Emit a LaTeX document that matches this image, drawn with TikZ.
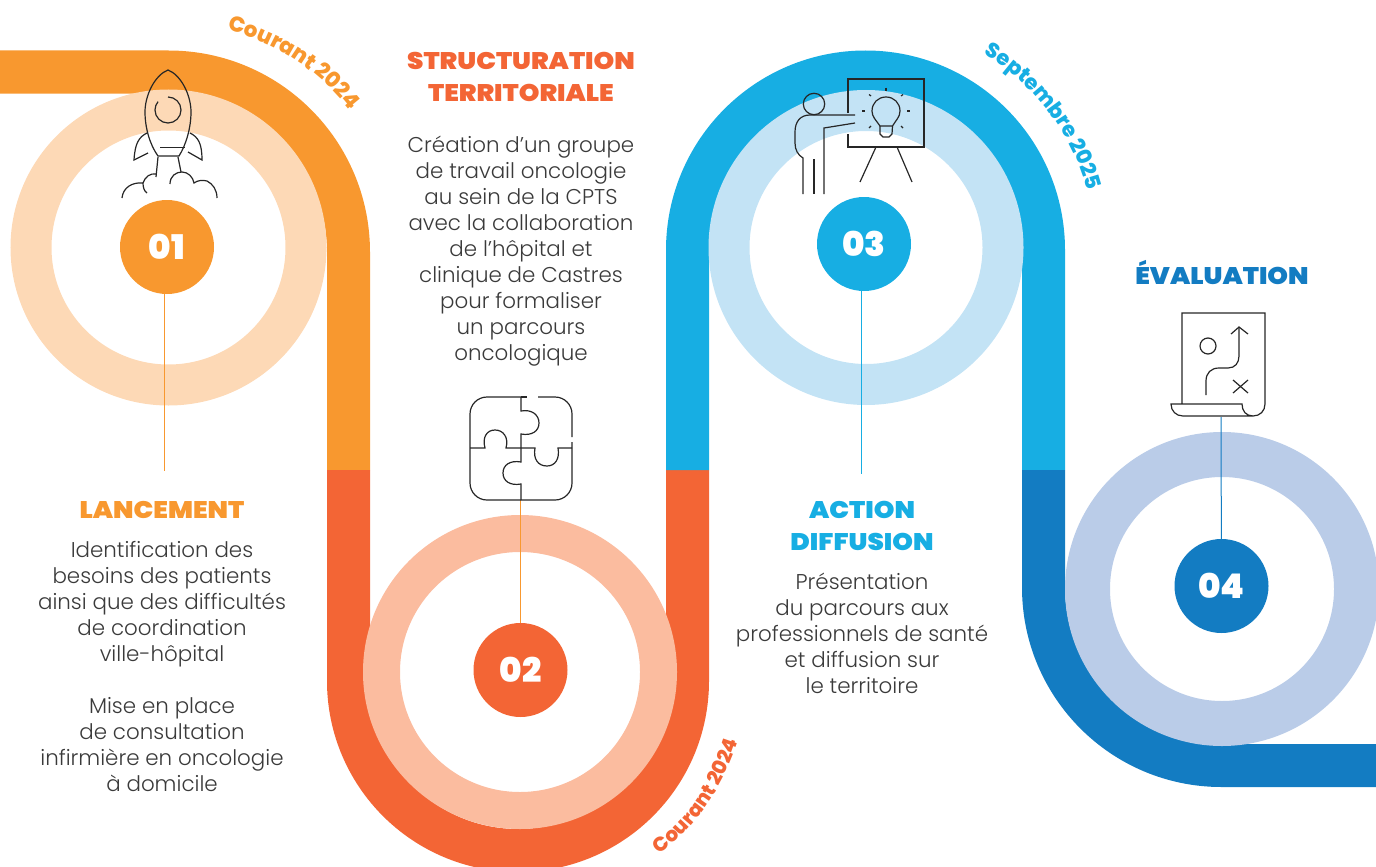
\documentclass[tikz,border=0pt]{standalone}
\usepackage{fontspec}
\setmainfont{Poppins}[UprightFont=* Light]
\newfontfamily\headfont{Poppins Black}[FakeStretch=1.095]
\newfontfamily\numfont{Poppins Black}
\newfontfamily\datefont{Poppins ExtraBold}
\usetikzlibrary{decorations.text}

\definecolor{orangeband}{HTML}{F8982F}
\definecolor{orangering}{HTML}{FDD9B6}
\definecolor{redband}{HTML}{F36535}
\definecolor{redring}{HTML}{FBBC9F}
\definecolor{blueband}{HTML}{17AEE3}
\definecolor{bluering}{HTML}{C3E3F5}
\definecolor{darkband}{HTML}{137CC2}
\definecolor{darkring}{HTML}{BACCE8}
\definecolor{bodygray}{HTML}{3A3A3A}

\tikzset{
  band/.style = {line width=43pt},
  numdisc/.style = {circle, minimum size=94pt, inner sep=0pt, text=white,
    font=\numfont\fontsize{34}{34}\selectfont},
  headtext/.style = {align=center, font=\headfont\fontsize{24}{32}\selectfont},
  bodytext/.style = {align=center, text=bodygray, font=\fontsize{21.4}{26}\selectfont},
  stem/.style = {line width=1pt},
  icon/.style = {line width=1.2pt, color=black!85},
  datepath/.style n args = {3}{decorate, decoration={text along path, text align=center,
    text={|\datefont\fontsize{#1}{#1}\selectfont\color{#2}|#3}}},
  rocket/.pic = {
    \draw[icon] (158,156) .. controls (150,145) and (145,128) .. (145,112)
       .. controls (145,95) and (155,75) .. (168,70)
       .. controls (181,75) and (191,95) .. (191,112)
       .. controls (191,128) and (186,145) .. (179,156) -- cycle;
    \draw[icon] (160,147.5) -- (185,147.5);
    \draw[icon] (168,97) arc[start angle=270, end angle=580, radius=13];
    \draw[icon] (147,133) .. controls (139,137) and (135,143) .. (134,160) -- (148,153);
    \draw[icon] (190,133) .. controls (198,137) and (202,143) .. (202,160) -- (188,152);
    \draw[icon] (158,157) -- (156,177);
    \draw[icon] (178,157) -- (181,172);
    \draw[icon] (122,198) .. controls (123,187) and (133,182) .. (143,183)
       .. controls (143,187) and (144,191) .. (147,193);
    \draw[icon] (143,183) .. controls (145,177) and (150,173) .. (156,174);
    \draw[icon] (170,184) .. controls (170,176) and (176,172) .. (182,172)
       .. controls (188,172) and (193,177) .. (194,183)
       .. controls (198,180) and (203,180) .. (207,181)
       .. controls (213,184) and (217,190) .. (217,198);
  },
  puzzle/.pic = {
    \draw[icon] (521,397) -- (487,397) arc[start angle=270, end angle=180, radius=17]
       -- (470,483) arc[start angle=180, end angle=90, radius=17] -- (555,500)
       arc[start angle=90, end angle=0, radius=17] -- (572,442);
    \draw[icon] (521,397) -- (527,397);
    \draw[icon] (538,397) -- (555,397) arc[start angle=270, end angle=360, radius=17] -- (572,437);
    \draw[icon] (521,397) -- (521,411) .. controls (532,409) and (539,415) .. (539,423)
       .. controls (539,431) and (532,436) .. (521,434) -- (521,462)
       .. controls (510,460) and (503,465) .. (503,473)
       .. controls (503,481) and (510,486) .. (521,484) -- (521,500);
    \draw[icon] (470,448) -- (485,448) .. controls (482,437) and (487,430) .. (495,430)
       .. controls (503,430) and (509,437) .. (506,448) -- (535,448)
       .. controls (533,459) and (538,466) .. (547,466)
       .. controls (555,466) and (560,459) .. (558,448) -- (572,448);
  },
  presenter/.pic = {
    \draw[icon] (848,113) -- (848,79) -- (924,79) -- (924,147) -- (848,147) -- (848,134);
    \draw[icon] (814,104) circle[radius=10.7];
    \draw[icon] (855,115) -- (810,115) .. controls (800,115) and (795,122) .. (795,132)
       -- (795,143) .. controls (795,150) and (798,155) .. (803,158) -- (803,194);
    \draw[icon] (855,123) -- (824,128) -- (824,194);
    \draw[icon] (814,159) -- (814,194);
    \draw[icon] (876,147) -- (860,182);
    \draw[icon] (897,147) -- (912,182);
    \draw[icon] (880,126) .. controls (876,120) and (872,117) .. (872,111)
       .. controls (872,103) and (878,97) .. (886,97)
       .. controls (894,97) and (900,103) .. (900,111)
       .. controls (900,117) and (896,120) .. (892.5,126) -- cycle;
    \draw[icon] (880,126) -- (880,134) -- (883,137) -- (889,137) -- (892,134) -- (892.5,126);
    \foreach \a/\b/\c/\d in {886/87.5/886/90.5, 869/94.5/871/96, 901/96/903/94.5,
        862/111/865/111, 907/111/910/111, 869/128/871/126, 901/126/903/128} {
      \draw[icon] (\a,\b) -- (\c,\d);
    };
  },
  roadmap/.pic = {
    \draw[icon] (1182,404) -- (1182,313) -- (1265,313) -- (1265,404)
       .. controls (1265,411) and (1260,416) .. (1253,416)
       .. controls (1246,416) and (1242,411) .. (1242,404) -- (1171,404)
       .. controls (1171,411) and (1176,416) .. (1183,416) -- (1253,416);
    \draw[icon] (1208,346) circle[radius=8];
    \draw[icon] (1206,395) -- (1206,381) .. controls (1206,373) and (1211,368) .. (1219,368)
       -- (1228,368) .. controls (1235,368) and (1239,363) .. (1239,356) -- (1239,327);
    \draw[icon] (1231,334) -- (1239,327) -- (1248,334);
    \draw[icon] (1233,380) -- (1248,393);
    \draw[icon] (1248,380) -- (1233,393);
  },
}

\begin{document}
\begin{tikzpicture}[x=1pt,y=-1pt]
  \useasboundingbox (0,0) rectangle (1376,867);
  % road
  \draw[band,orangeband] (0,72) -- (168.5,72) arc[start angle=270, end angle=360, radius=180] -- (348.5,470);
  \draw[band,redband] (348.5,470) -- (348.5,681) arc[start angle=180, end angle=0, radius=169.5] -- (687.5,470);
  \draw[band,blueband] (687.5,470) -- (687.5,250) arc[start angle=180, end angle=360, radius=178] -- (1043.5,470);
  \draw[band,darkband] (1043.5,470) -- (1043.5,587.5) arc[start angle=180, end angle=90, radius=178] -- (1376,765.5);

  % rings and numbers
  \foreach \i/\lab/\rx/\ry/\rr/\rw/\nx/\ny/\bandcol/\ringcol in {
      1/01/168.5/247.5/137.5/41/167/247/orangeband/orangering,
      2/02/520/672/138.5/37/520.5/670/redband/redring,
      3/03/866/247.5/137/41/864/244/blueband/bluering,
      4/04/1222/589/134.5/45/1221.5/586/darkband/darkring} {
    \draw[line width=\rw pt,\ringcol] (\rx,\ry) circle[radius=\rr];
    \node[numdisc,fill=\bandcol] (num\i) at (\nx,\ny) {\lab};
  };

  % stems
  \coordinate (stem1) at (164,471);
  \coordinate (stem2) at (520.5,500);
  \coordinate (stem3) at (861,474);
  \coordinate (stem4) at (1221,417);
  \draw[stem,orangeband] (num1.south -| stem1) -- (stem1);
  \draw[stem,orangeband] (stem2) -- (num2);
  \draw[stem,blueband] (num3.south -| stem3) -- (stem3);
  \draw[stem,darkband] (stem4) -- (num4);

  % icons
  \pic at (0,0) {rocket};
  \pic at (0,0) {puzzle};
  \pic at (0,0) {presenter};
  \pic at (0,0) {roadmap};

  % dates
  \path[datepath={21.5}{orangeband}{Courant 2024}] (168.5,252) ++(277.5:230) arc[start angle=277.5, end angle=329.5, radius=230];
  \path[datepath={20}{redband}{Courant 2024}] (518,672) ++(62:231) arc[start angle=62, end angle=7.6, radius=231];
  \path[datepath={21}{blueband}{Septembre 2025}] (866,250) ++(288:229) arc[start angle=288, end angle=358, radius=229];

  % titles
  \node[headtext,text=orangeband] (title1) at (162,510) {LANCEMENT};
  \node[headtext,text=redband] (title2) at (521,77) {STRUCTURATION\\TERRITORIALE};
  \node[headtext,text=blueband] (title3) at (862,526) {ACTION\\DIFFUSION};
  \node[headtext,text=darkband] (title4) at (1222,272) {ÉVALUATION};

  % texts
  \node[bodytext] (body1) at (162,666.5) {Identification des\\besoins des patients\\ainsi que des difficultés\\de coordination\\ville-hôpital\\[26pt]Mise en place\\de consultation\\infirmière en oncologie\\à domicile};
  \node[bodytext] (body2) at (521,251.5) {Création d’un groupe\\de travail oncologie\\au sein de la CPTS\\avec la collaboration\\de l’hôpital et\\clinique de Castres\\pour formaliser\\un parcours\\oncologique};
  \node[bodytext] (body3) at (862,633.5) {Présentation\\du parcours aux\\professionnels de santé\\et diffusion sur\\le territoire};
\end{tikzpicture}
\end{document}
